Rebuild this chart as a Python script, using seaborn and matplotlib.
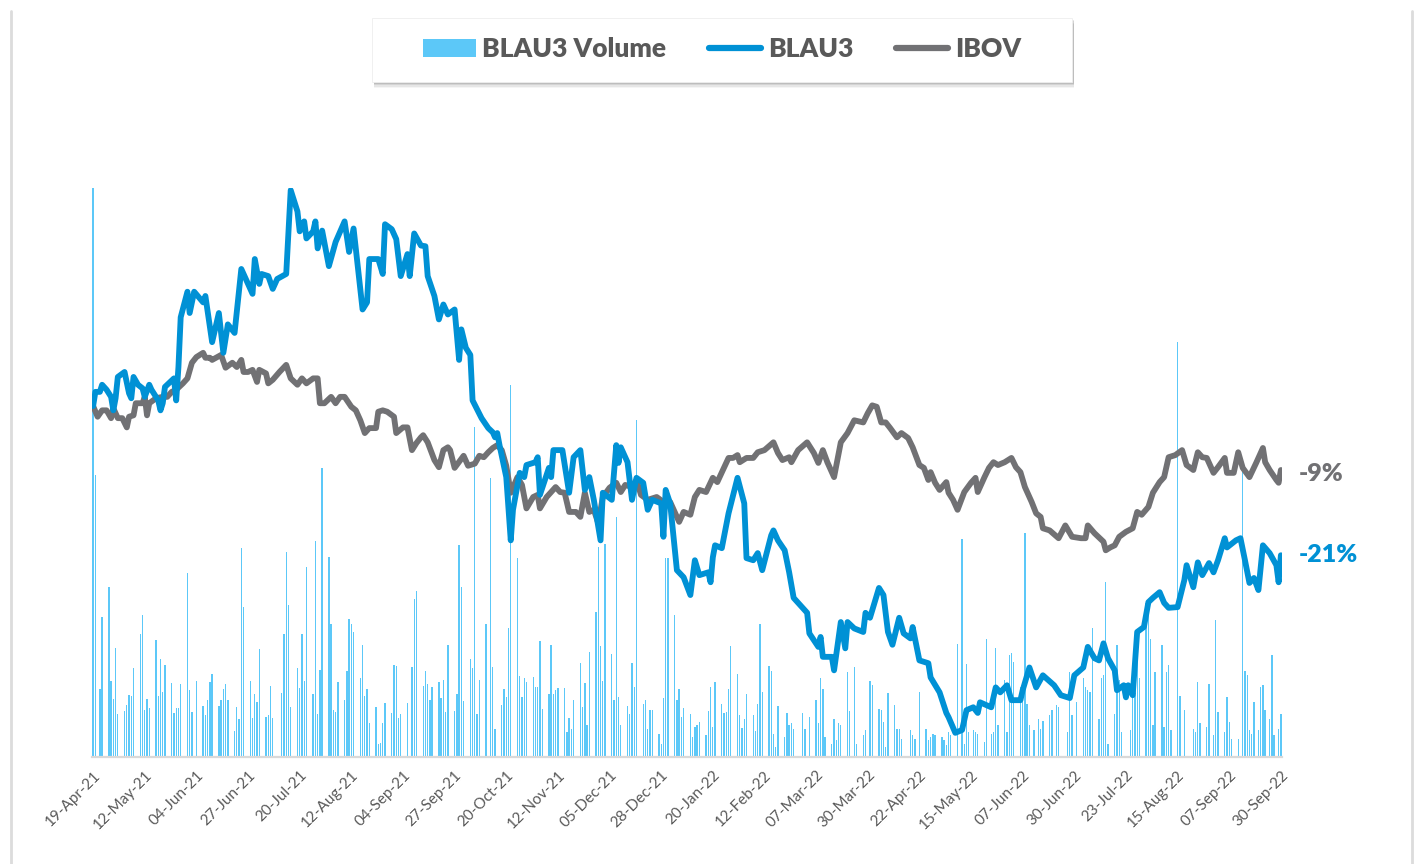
import pandas as pd
import matplotlib
matplotlib.use('Agg')
import matplotlib.pyplot as plt
from matplotlib.patches import Rectangle, Patch
from matplotlib.lines import Line2D
import seaborn as sns

# dias corridos desde 19-Apr-21
start = pd.Timestamp('2021-04-19')

blau_days = [0, 1, 3, 4, 6, 8, 9, 10, 11, 14,
             16, 17, 18, 20, 22, 23, 25, 26, 29, 30,
             31, 32, 36, 37, 38, 39, 42, 43, 45, 49,
             50, 53, 56, 58, 60, 63, 66, 69, 71, 72,
             74, 75, 78, 80, 82, 86, 88, 91, 92, 94,
             95, 98, 99, 100, 102, 105, 108, 112, 114, 116,
             120, 122, 123, 127, 129, 130, 133, 135, 137, 140,
             141, 143, 146, 148, 149, 152, 154, 156, 158, 161,
             163, 164, 166, 168, 169, 173, 176, 178, 179, 180,
             181, 184, 186, 187, 190, 192, 193, 197, 198, 199,
             203, 204, 205, 209, 212, 214, 217, 219, 221, 223,
             225, 226, 227, 231, 233, 234, 235, 238, 240, 242,
             245, 247, 249, 253, 254, 255, 257, 260, 263, 266,
             268, 270, 274, 275, 276, 277, 280, 283, 287, 290,
             291, 294, 296, 298, 302, 303, 305, 308, 310, 312,
             318, 319, 323, 324, 325, 329, 330, 333, 335, 336,
             339, 343, 344, 346, 350, 352, 354, 356, 359, 361,
             364, 365, 368, 372, 373, 377, 380, 381, 384, 387,
             389, 392, 394, 395, 400, 402, 404, 407, 409, 413,
             414, 417, 420, 423, 428, 431, 435, 437, 441, 443,
             446, 448, 450, 452, 455, 456, 459, 460, 461, 463,
             465, 468, 470, 472, 475, 477, 479, 483, 486, 487,
             490, 492, 494, 497, 499, 501, 504, 505, 509, 511,
             513, 515, 517, 519, 521, 524, 527, 528, 529]
blau_pct = [0, 2.0, 2.0, 3.0, 2.3, 1.3, -0.6, 1.1, 4.1, 4.8,
            1.8, 1.1, 4.1, 3.0, 2.5, 1.3, 3.0, 2.3, 0.8, -0.6,
            0.4, 2.7, 3.9, 0.8, 5.5, 12.5, 16.1, 13.1, 16.1, 14.6,
            15.5, 9.0, 13.1, 7.5, 11.5, 10.3, 19.3, 17.2, 15.8, 20.7,
            17.2, 18.6, 18.3, 16.5, 17.9, 18.6, 30.4, 27.4, 24.6, 26.0,
            23.6, 24.6, 26.0, 22.2, 24.7, 19.7, 23.1, 26.0, 21.7, 25.0,
            13.6, 14.6, 20.7, 20.7, 18.6, 25.6, 24.9, 23.5, 18.3, 21.4,
            18.3, 24.3, 22.6, 22.5, 18.3, 15.5, 12.2, 14.3, 12.9, 13.6,
            6.5, 10.8, 8.2, 7.2, 0.8, -1.7, -3.1, -3.7, -4.4, -3.8,
            -5.5, -10.0, -18.9, -14.6, -9.4, -10.0, -8.3, -7.9, -7.2, -12.5,
            -8.7, -10.0, -6.2, -6.2, -12.2, -7.2, -6.2, -11.8, -10.0, -13.2,
            -17.0, -18.9, -12.2, -13.2, -5.5, -8.0, -5.8, -7.9, -13.2, -10.1,
            -10.8, -14.6, -13.2, -13.7, -18.4, -11.8, -13.7, -23.1, -24.1, -26.6,
            -21.7, -23.8, -23.4, -24.8, -21.3, -19.6, -20.0, -15.1, -10.1, -13.7,
            -21.4, -21.7, -20.7, -23.1, -18.2, -17.5, -18.9, -20.3, -23.4, -27.0,
            -29.1, -32.0, -33.9, -32.5, -35.3, -35.3, -37.2, -30.4, -34.1, -30.4,
            -31.3, -31.8, -29.1, -29.8, -25.6, -26.6, -31.8, -33.6, -29.8, -32.0,
            -32.7, -31.1, -35.8, -36.2, -38.2, -40.3, -43.2, -43.8, -46.0, -45.6,
            -42.8, -42.4, -43.2, -41.7, -42.4, -39.6, -40.3, -39.3, -41.4, -41.4,
            -40.0, -36.8, -39.6, -37.9, -39.3, -40.7, -41.1, -37.9, -36.8, -33.9,
            -35.5, -35.8, -33.4, -35.5, -37.2, -40.0, -39.3, -41.0, -39.3, -40.7,
            -31.8, -31.1, -27.6, -27.0, -26.2, -27.7, -28.4, -28.3, -24.5, -22.4,
            -25.5, -22.0, -23.8, -22.1, -23.4, -21.7, -18.6, -19.9, -18.9, -18.6,
            -21.7, -24.9, -24.2, -25.9, -19.6, -20.7, -22.4, -24.8, -21.0]

ibov_days = [0, 2, 4, 6, 8, 9, 11, 13, 15, 16,
             18, 19, 22, 23, 24, 25, 28, 31, 33, 35,
             37, 40, 42, 44, 46, 49, 50, 52, 53, 57,
             59, 62, 64, 66, 67, 69, 71, 73, 74, 77,
             78, 80, 83, 86, 88, 91, 93, 95, 98, 100,
             101, 103, 106, 108, 110, 112, 115, 117, 119, 121,
             123, 126, 127, 129, 131, 134, 135, 138, 140, 142,
             144, 146, 147, 149, 152, 154, 156, 158, 159, 161,
             165, 167, 170, 172, 174, 176, 178, 180, 182, 184,
             186, 189, 191, 193, 196, 198, 199, 202, 206, 208,
             210, 212, 215, 217, 219, 221, 223, 225, 227, 230,
             233, 235, 237, 240, 242, 244, 247, 251, 254, 257,
             261, 263, 266, 268, 270, 273, 276, 278, 283, 285,
             287, 288, 291, 294, 296, 299, 303, 305, 307, 310,
             311, 314, 318, 321, 323, 325, 327, 330, 333, 336,
             339, 343, 345, 347, 349, 351, 353, 355, 358, 360,
             363, 365, 368, 370, 372, 373, 375, 377, 380, 381,
             383, 385, 388, 391, 393, 394, 397, 399, 401, 403,
             406, 409, 411, 413, 415, 418, 420, 422, 423, 426,
             430, 433, 436, 440, 442, 443, 446, 450, 451, 453,
             455, 457, 460, 463, 465, 467, 470, 472, 475, 477,
             479, 482, 485, 487, 490, 492, 494, 496, 499, 501,
             504, 505, 508, 510, 512, 515, 518, 521, 522, 524,
             527, 528, 529]
ibov_pct = [0, -1.5, -0.6, -0.6, -1.7, -0.3, -1.7, -1.7, -3.0, -1.5,
            -1.3, 0.4, 0.4, 1.3, -1.3, 0.4, 1.1, 1.3, 1.3, 2.0,
            2.3, 3.2, 3.9, 6.1, 6.9, 7.5, 6.8, 6.8, 6.5, 7.2,
            5.4, 6.1, 5.5, 6.5, 4.8, 4.8, 5.1, 3.4, 5.1, 4.6,
            3.2, 3.7, 4.8, 5.8, 3.9, 3.0, 3.9, 3.2, 3.9, 3.9,
            0.4, 0.4, 1.3, 0.4, 1.3, 1.3, -0.1, -0.6, -2.0, -3.8,
            -3.1, -3.1, -0.8, -0.6, -0.8, -1.5, -3.8, -3.0, -3.0, -6.2,
            -5.2, -4.4, -4.1, -5.1, -7.6, -8.6, -6.2, -5.8, -6.2, -8.7,
            -7.0, -8.4, -8.1, -7.0, -7.2, -6.5, -5.9, -5.5, -6.2, -8.4,
            -12.2, -10.0, -11.1, -14.4, -12.8, -12.5, -14.4, -12.8, -11.4, -12.1,
            -12.2, -14.9, -14.9, -15.6, -12.2, -14.9, -14.6, -16.5, -12.8, -11.5,
            -10.8, -12.1, -11.1, -11.4, -10.4, -12.5, -13.2, -12.8, -13.5, -13.5,
            -16.3, -14.9, -15.3, -12.8, -11.8, -12.1, -10.1, -10.7, -7.3, -7.3,
            -6.9, -7.9, -7.3, -7.3, -6.5, -6.2, -5.1, -6.6, -7.6, -7.2,
            -7.9, -6.2, -5.1, -6.6, -8.0, -6.2, -7.9, -10.0, -5.1, -3.8,
            -2.0, -2.3, -1.0, 0.1, -0.1, -2.3, -2.3, -3.1, -4.4, -3.8,
            -4.5, -5.8, -8.3, -8.7, -10.4, -9.3, -10.8, -11.8, -10.7, -12.2,
            -13.2, -14.6, -12.1, -10.8, -10.1, -12.1, -10.0, -8.7, -7.9, -8.3,
            -7.9, -7.3, -8.6, -9.3, -11.4, -13.5, -15.1, -15.6, -17.2, -17.5,
            -18.6, -16.8, -18.4, -18.6, -18.6, -16.8, -17.9, -19.1, -20.3, -19.9,
            -19.6, -18.4, -17.7, -17.2, -14.9, -15.3, -14.2, -12.2, -10.7, -10.0,
            -7.2, -6.9, -6.2, -8.3, -9.0, -6.5, -7.2, -7.3, -9.4, -8.6,
            -7.3, -9.4, -9.4, -6.5, -8.7, -10.0, -8.0, -5.9, -7.9, -9.0,
            -10.4, -10.8, -9.0]

# volume (milhoes), mesmo esquema de dias
vol_days = [0, 1, 3, 4, 7, 8, 9, 10, 11, 14,
            15, 16, 17, 18, 21, 22, 23, 24, 25, 28,
            29, 30, 31, 32, 35, 36, 37, 38, 39, 42,
            43, 44, 46, 49, 50, 51, 52, 53, 56, 57,
            58, 59, 60, 63, 64, 65, 66, 67, 70, 71,
            72, 73, 74, 77, 78, 79, 80, 84, 85, 86,
            87, 88, 91, 92, 93, 94, 95, 98, 99, 100,
            101, 102, 105, 106, 107, 108, 109, 112, 113, 114,
            115, 116, 119, 120, 121, 122, 123, 126, 127, 128,
            129, 130, 133, 134, 135, 136, 137, 140, 142, 143,
            144, 147, 148, 149, 150, 151, 154, 155, 156, 157,
            158, 161, 162, 163, 164, 165, 168, 169, 170, 171,
            172, 175, 177, 178, 179, 182, 183, 184, 185, 186,
            189, 190, 191, 192, 193, 196, 197, 198, 199, 200,
            203, 204, 205, 206, 207, 210, 211, 212, 213, 214,
            217, 218, 219, 220, 221, 224, 225, 226, 227, 228,
            231, 232, 233, 234, 235, 238, 239, 240, 241, 242,
            245, 246, 247, 248, 249, 252, 253, 254, 255, 256,
            259, 260, 261, 262, 263, 266, 267, 268, 269, 270,
            273, 274, 275, 276, 277, 280, 281, 282, 283, 284,
            287, 288, 289, 290, 291, 294, 295, 296, 297, 298,
            301, 302, 303, 304, 305, 308, 309, 310, 311, 312,
            316, 317, 319, 322, 323, 324, 325, 326, 329, 330,
            331, 332, 333, 336, 337, 339, 340, 343, 344, 346,
            347, 350, 351, 352, 353, 354, 357, 358, 359, 360,
            364, 365, 366, 368, 371, 372, 373, 374, 375, 378,
            379, 380, 381, 382, 385, 387, 388, 389, 390, 392,
            393, 394, 397, 398, 400, 401, 402, 403, 406, 407,
            408, 409, 410, 413, 414, 415, 416, 417, 419, 421,
            422, 423, 426, 427, 429, 430, 434, 435, 436, 438,
            441, 442, 443, 444, 445, 448, 449, 450, 451, 452,
            455, 456, 457, 458, 462, 463, 464, 465, 466, 469,
            470, 471, 472, 473, 476, 477, 478, 479, 480, 483,
            484, 486, 490, 491, 492, 493, 496, 497, 499, 500,
            501, 504, 505, 506, 507, 510, 512, 513, 514, 515,
            516, 517, 519, 520, 521, 522, 524, 525, 526, 528, 529]
vol = [10.0, 4.95, 1.2, 2.46, 2.99, 1.34, 1.02, 1.92, 0.76, 0.81,
       0.91, 1.09, 1.07, 1.56, 2.17, 2.49, 0.83, 1.02, 0.86, 2.05,
       1.08, 1.72, 1.14, 1.62, 1.3, 0.78, 0.86, 0.86, 1.28, 3.23,
       1.17, 0.79, 1.34, 0.9, 0.73, 1.01, 1.31, 1.46, 0.9, 1.01,
       1.19, 1.29, 1.01, 0.45, 0.88, 0.66, 3.67, 2.64, 1.33, 0.69,
       1.1, 0.97, 1.89, 0.7, 0.74, 1.24, 0.69, 1.13, 2.17, 3.6,
       2.68, 0.87, 1.57, 1.21, 2.17, 1.33, 3.34, 1.1, 3.8, 0.76,
       1.53, 5.08, 3.51, 2.34, 0.83, 0.79, 1.31, 1.0, 1.52, 2.43,
       2.34, 2.2, 1.39, 1.97, 1.07, 1.2, 0.59, 0.87, 0.23, 0.25,
       0.6, 0.95, 0.77, 1.62, 1.6, 0.69, 0.76, 0.95, 1.58, 2.78,
       2.91, 1.24, 1.52, 1.28, 1.0, 1.23, 1.32, 1.04, 1.35, 0.79,
       1.97, 0.8, 1.11, 3.73, 2.99, 0.98, 1.72, 1.57, 5.8, 0.76,
       1.36, 2.34, 4.9, 1.58, 0.5, 0.91, 1.2, 1.05, 2.27, 6.54,
       3.5, 1.43, 1.05, 1.39, 1.32, 1.41, 1.23, 1.23, 2.03, 0.85,
       1.1, 1.96, 1.11, 1.17, 1.21, 1.21, 0.44, 0.69, 0.49, 1.0,
       1.66, 0.88, 1.3, 0.56, 1.85, 2.55, 3.69, 1.95, 1.33, 3.75,
       1.81, 1.01, 4.22, 1.05, 0.57, 0.9, 0.76, 1.66, 1.23, 5.92,
       0.94, 1.0, 0.49, 0.82, 0.82, 0.41, 0.23, 1.04, 3.5, 3.5,
       2.49, 1.0, 1.2, 0.7, 0.86, 0.76, 0.35, 0.53, 0.56, 0.62,
       0.38, 0.8, 1.23, 0.53, 1.31, 0.94, 0.78, 0.79, 1.19, 1.95,
       1.45, 0.73, 0.51, 0.67, 1.11, 0.73, 0.45, 0.94, 2.33, 1.14,
       1.6, 1.52, 0.41, 0.18, 0.9, 0.35, 0.78, 0.57, 0.59, 0.5,
       0.78, 0.5, 0.7, 1.01, 0.59, 1.38, 1.2, 0.35, 0.22, 0.66,
       0.29, 0.59, 0.56, 1.49, 0.8, 1.58, 0.23, 0.39, 0.47, 1.34,
       1.26, 0.85, 0.82, 0.62, 0.18, 1.12, 0.91, 0.5, 0.49, 0.32,
       0.47, 0.38, 0.32, 1.15, 0.5, 0.29, 0.35, 0.41, 0.38, 0.35,
       0.29, 0.21, 0.44, 0.38, 1.99, 3.84, 0.23, 1.64, 0.44, 0.47,
       0.44, 0.41, 0.26, 2.08, 0.41, 0.44, 1.91, 0.56, 1.35, 0.44,
       1.79, 1.82, 1.67, 1.23, 0.97, 3.93, 0.94, 0.56, 0.47, 0.67,
       0.5, 0.64, 0.73, 0.82, 0.91, 0.88, 0.44, 1.49, 0.73, 0.97,
       1.38, 1.23, 1.17, 1.14, 2.26, 0.67, 1.38, 1.44, 3.08, 0.23,
       0.76, 1.96, 1.35, 0.44, 0.47, 1.35, 1.38, 1.96, 1.38, 2.7,
       2.72, 2.08, 0.56, 1.49, 1.96, 0.53, 1.49, 1.61, 0.47, 7.29,
       1.08, 0.82, 0.5, 0.44, 1.32, 0.59, 0.53, 1.29, 0.38, 2.4,
       0.79, 0.44, 1.05, 0.62, 0.32, 0.32, 5.01, 1.52, 1.44, 0.47,
       0.41, 0.97, 0.47, 1.23, 1.26, 0.82, 0.67, 1.79, 0.38, 0.5, 0.76]

blue = '#0091d5'
gray = '#717174'
vol_color = '#5cc8f8'
txt_color = '#595959'

sns.set_theme(style='white')
plt.rcParams['font.family'] = ['Lato', 'DejaVu Sans']

blau = pd.DataFrame({'date': start + pd.to_timedelta(blau_days, unit='D'), 'pct': blau_pct})
ibov = pd.DataFrame({'date': start + pd.to_timedelta(ibov_days, unit='D'), 'pct': ibov_pct})
volume = pd.DataFrame({'date': start + pd.to_timedelta(vol_days, unit='D'), 'vol': vol})
end = start + pd.Timedelta(days=529)

fig = plt.figure(figsize=(14.16, 8.64), dpi=100)
ax = fig.add_axes([92 / 1416, 107 / 864, 1190 / 1416, 569 / 864])
ax.bar(volume['date'], volume['vol'], width=0.6, color=vol_color, linewidth=0)
ax.set_ylim(0, 10)
ax.set_xlim(start - pd.Timedelta(hours=12), end + pd.Timedelta(hours=12))

ax2 = ax.twinx()
sns.lineplot(data=ibov, x='date', y='pct', ax=ax2, color=gray, lw=4.2, legend=False,
             solid_joinstyle='round', solid_capstyle='round')
sns.lineplot(data=blau, x='date', y='pct', ax=ax2, color=blue, lw=4.2, legend=False,
             solid_joinstyle='round', solid_capstyle='round')
ax2.set_ylim(-49.4, 30.7)

ticks = pd.date_range(start, periods=24, freq='23D')
ax.set_xticks(ticks)
ax.set_xticklabels([t.strftime('%d-%b-%y') for t in ticks], rotation=45, ha='right',
                   va='top', rotation_mode='anchor', fontsize=11, color=txt_color)
ax.tick_params(axis='x', length=0, pad=8)
for a in (ax, ax2):
    a.set_yticks([])
    a.set_xlabel('')
    a.set_ylabel('')
    for s in a.spines.values():
        s.set_visible(False)
ax.spines['bottom'].set_visible(True)
ax.spines['bottom'].set_color('#d9d9d9')
ax.spines['bottom'].set_linewidth(1.6)

ax2.annotate('-9%', xy=(end, ibov_pct[-1]), xytext=(13, -3), textcoords='offset points',
             ha='left', va='center', fontsize=18, fontweight='heavy', color=gray)
ax2.annotate('-21%', xy=(end, blau_pct[-1]), xytext=(13, 0), textcoords='offset points',
             ha='left', va='center', fontsize=18, fontweight='heavy', color=blue)

# caixa da legenda com sombra
bx, by, bw, bh = 372 / 1416, 1 - 82 / 864, 700 / 1416, 64 / 864
for i, a in enumerate([0.04, 0.06, 0.08, 0.10]):
    off = (4 - i) * 1.5
    fig.patches.append(Rectangle((bx + 2 / 1416, by - off / 864), bw, bh,
                                 transform=fig.transFigure, facecolor='black',
                                 alpha=a, edgecolor='none', zorder=1))
fig.patches.append(Rectangle((bx, by), bw, bh, transform=fig.transFigure,
                             facecolor='white', edgecolor='#eeeeee', lw=0.6, zorder=2))

handles = [Patch(facecolor=vol_color, edgecolor='none'),
           Line2D([], [], color=blue, lw=4.5, solid_capstyle='round'),
           Line2D([], [], color=gray, lw=4.5, solid_capstyle='round')]
fig.legend(handles, ['BLAU3 Volume', 'BLAU3', 'IBOV'], loc='center',
           bbox_to_anchor=(722 / 1416, 1 - 49 / 864), ncol=3, frameon=False,
           prop={'size': 19, 'weight': 'heavy'}, labelcolor=txt_color,
           handlelength=2.0, handleheight=0.7, handletextpad=0.25, columnspacing=1.6)

# moldura
for xf in (11 / 1416, 1412 / 1416):
    fig.add_artist(Line2D([xf, xf], [0, 1 - 11 / 864], transform=fig.transFigure,
                          color='#dcdcdc', lw=2.0))

fig.savefig('out.png', dpi=100, facecolor='white')
